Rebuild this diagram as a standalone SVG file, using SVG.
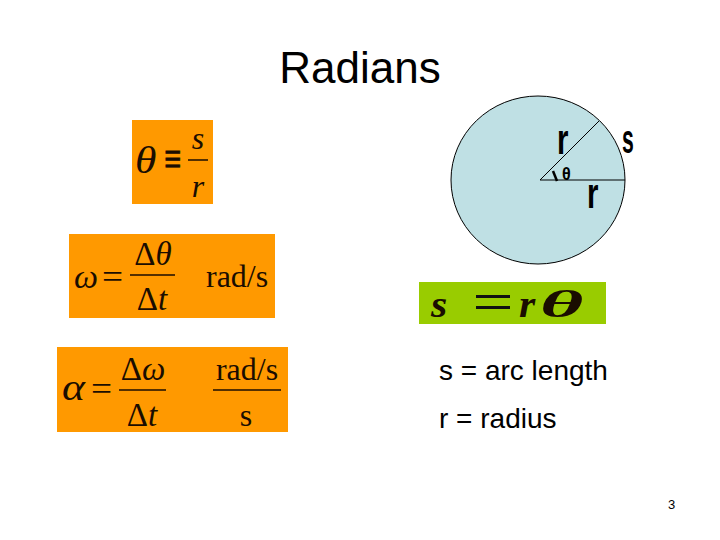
<svg xmlns="http://www.w3.org/2000/svg" width="720" height="540" viewBox="0 0 720 540">
<style>
.box{fill:#FF9900}
.m{font-family:"Liberation Serif",serif;fill:#1a0d00}
.i{font-style:italic}
.t{font-family:"Liberation Sans",Arial,sans-serif;fill:#000}
.c{font-family:"Liberation Sans",Arial,sans-serif;font-weight:bold;fill:#000}
.bar{stroke:#1a0d00;stroke-width:1.5}
</style>
<rect width="720" height="540" fill="#fff"/>
<text class="t" x="360" y="83" font-size="44" text-anchor="middle">Radians</text>

<g id="eq-theta">
<rect class="box" x="132" y="120" width="81" height="84"/>
<text class="m i" transform="translate(135,173) scale(1.15,1)" font-size="38">θ</text>
<text class="m" transform="translate(164,175) scale(0.95,1.5)" font-size="32" stroke="#1a0d00" stroke-width="0.5">≡</text>
<text class="m i" x="198" y="149" font-size="32" text-anchor="middle">s</text>
<line class="bar" x1="188" y1="160" x2="208" y2="160"/>
<text class="m i" x="198" y="197" font-size="32" text-anchor="middle">r</text>
</g>

<g id="eq-omega">
<rect class="box" x="69" y="234" width="206" height="84"/>
<text class="m i" x="74" y="288" font-size="34">ω</text>
<text class="m" transform="translate(102,288) scale(1.1,1)" font-size="34">=</text>
<text class="m" x="153" y="265" font-size="33" text-anchor="middle">Δ<tspan class="i">θ</tspan></text>
<line class="bar" x1="130" y1="275" x2="175" y2="275"/>
<text class="m" x="152" y="310" font-size="33" text-anchor="middle">Δ<tspan class="i">t</tspan></text>
<text class="m" x="206" y="287" font-size="32">rad/s</text>
</g>

<g id="eq-alpha">
<rect class="box" x="57" y="347" width="231" height="85"/>
<text class="m i" transform="translate(62,400) scale(1.15,1)" font-size="38">α</text>
<text class="m" transform="translate(91,400) scale(1.1,1)" font-size="34">=</text>
<text class="m" x="143" y="380" font-size="33" text-anchor="middle">Δ<tspan class="i">ω</tspan></text>
<line class="bar" x1="119" y1="390" x2="166" y2="390"/>
<text class="m" x="142" y="426" font-size="33" text-anchor="middle">Δ<tspan class="i">t</tspan></text>
<text class="m" x="247" y="380" font-size="32" text-anchor="middle">rad/s</text>
<line class="bar" x1="213" y1="390" x2="281" y2="390"/>
<text class="m" x="246" y="426" font-size="32" text-anchor="middle">s</text>
</g>

<g id="circle">
<ellipse cx="538" cy="180" rx="87" ry="84" fill="#BFE0E4" stroke="#000" stroke-width="1"/>
<line x1="540" y1="180" x2="625" y2="180" stroke="#000" stroke-width="1.2"/>
<line x1="540" y1="180" x2="599" y2="121" stroke="#000" stroke-width="1"/>
<line x1="553" y1="171" x2="557" y2="181" stroke="#000" stroke-width="2.5"/>
<text class="c" transform="translate(557,154) scale(0.7,1)" font-size="42">r</text>
<text class="c" transform="translate(622,153) scale(0.53,1)" font-size="40">s</text>
<text class="c" transform="translate(587,208) scale(0.7,1)" font-size="42">r</text>
<text class="c" transform="translate(562,180) scale(0.85,1)" font-size="19">θ</text>
</g>

<g id="eq-arc">
<rect x="419" y="282" width="187" height="42" fill="#99CC00"/>
<text class="m i" font-weight="bold" transform="translate(431,317) scale(1.1,1)" font-size="38">s</text>
<rect x="476" y="295" width="34" height="3" fill="#111"/>
<rect x="476" y="306" width="34" height="3" fill="#111"/>
<text class="m i" font-weight="bold" transform="translate(519,317) scale(1.1,1)" font-size="38">r</text>
<text class="m i" font-weight="bold" transform="translate(540,317) scale(2.2,1)" font-size="38">θ</text>
</g>

<text class="t" x="439" y="380" font-size="28">s = arc length</text>
<text class="t" x="439" y="428" font-size="28">r = radius</text>
<text class="t" x="668" y="509" font-size="13">3</text>
</svg>
